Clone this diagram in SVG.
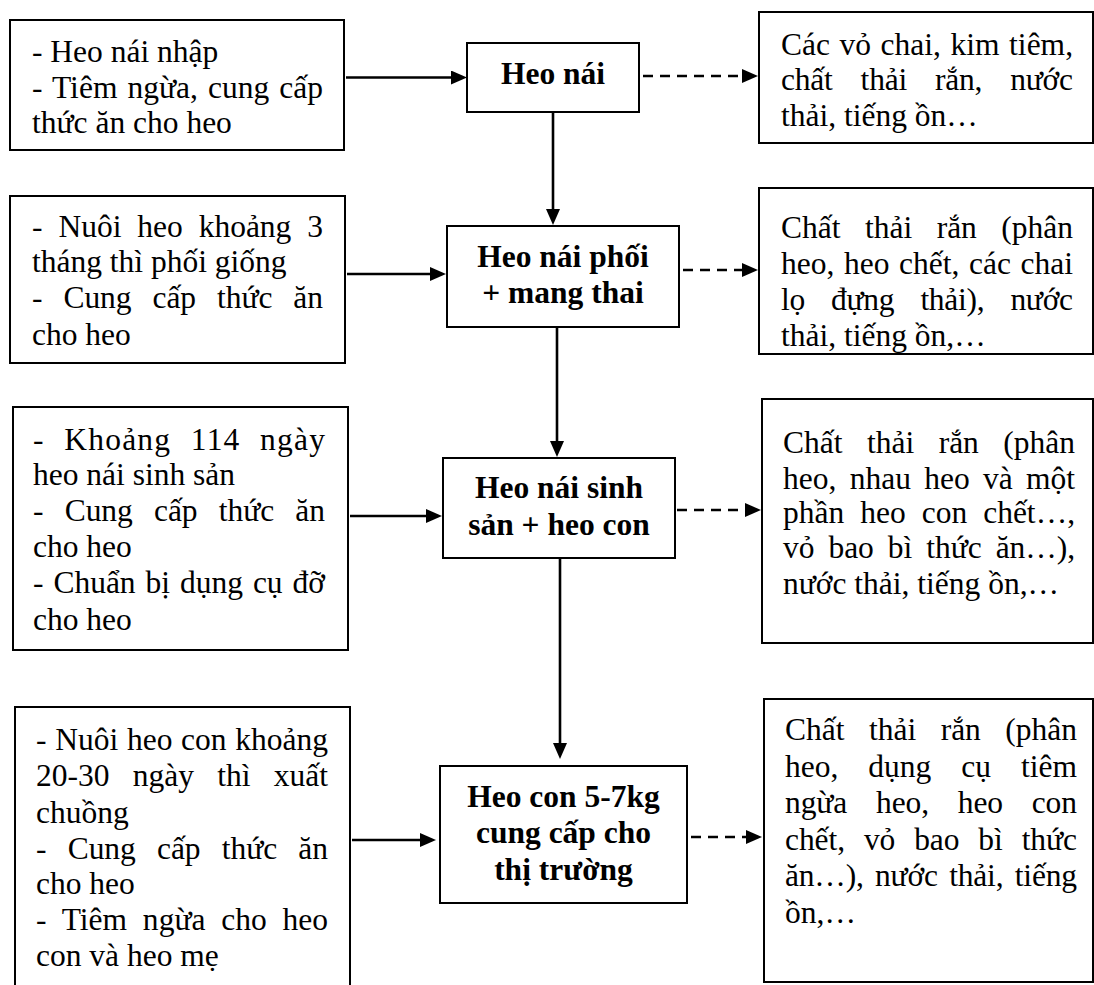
<svg xmlns="http://www.w3.org/2000/svg" width="1094" height="985" viewBox="0 0 1094 985">
<style>
.box{fill:#fff;stroke:#000;stroke-width:2}
.t{font-family:"Liberation Serif","Times New Roman",serif;font-size:31.5px;fill:#000}
.b{font-family:"Liberation Serif","Times New Roman",serif;font-size:31.5px;font-weight:bold;fill:#000;text-anchor:middle}
.ln{stroke:#000;stroke-width:2.6;fill:none}
.dl{stroke:#000;stroke-width:2.6;fill:none;stroke-dasharray:10 7}
</style>
<defs>
<marker id="ah" markerUnits="userSpaceOnUse" markerWidth="16" markerHeight="14" refX="6" refY="7" orient="auto">
<path d="M0,0 L16,7 L0,14 z" fill="#000"/>
</marker>
</defs>
<rect width="1094" height="985" fill="#fff"/>

<g id="connectors">
<line class="ln" x1="346" y1="77.5" x2="457" y2="77.5" marker-end="url(#ah)"/>
<line class="dl" x1="643" y1="76" x2="748" y2="76" marker-end="url(#ah)"/>
<line class="ln" x1="553" y1="112" x2="553" y2="215" marker-end="url(#ah)"/>
<line class="ln" x1="347" y1="274" x2="436" y2="274" marker-end="url(#ah)"/>
<line class="dl" x1="683" y1="270" x2="748" y2="270" marker-end="url(#ah)"/>
<line class="ln" x1="557" y1="327" x2="557" y2="447" marker-end="url(#ah)"/>
<line class="ln" x1="350" y1="516" x2="432" y2="516" marker-end="url(#ah)"/>
<line class="dl" x1="677" y1="510" x2="751" y2="510" marker-end="url(#ah)"/>
<line class="ln" x1="560" y1="558" x2="560" y2="749" marker-end="url(#ah)"/>
<line class="ln" x1="352" y1="840" x2="426" y2="840" marker-end="url(#ah)"/>
<line class="dl" x1="691" y1="837" x2="752" y2="837" marker-end="url(#ah)"/>
</g>

<g id="in1">
<rect class="box" x="10" y="20" width="334" height="130"/>
<text class="t" x="32" y="62">- Heo nái nhập</text>
<text class="t" x="32" y="98" word-spacing="2.1" textLength="291" lengthAdjust="spacing">- Tiêm ngừa, cung cấp</text>
<text class="t" x="32" y="133">thức ăn cho heo</text>
</g>

<g id="in2">
<rect class="box" x="10" y="196" width="335" height="167"/>
<text class="t" x="32" y="237" word-spacing="8" textLength="291" lengthAdjust="spacing">- Nuôi heo khoảng 3</text>
<text class="t" x="32" y="272">tháng thì phối giống</text>
<text class="t" x="32" y="308" word-spacing="13.2" textLength="291" lengthAdjust="spacing">- Cung cấp thức ăn</text>
<text class="t" x="32" y="345">cho heo</text>
</g>

<g id="in3">
<rect class="box" x="13" y="407" width="335" height="243"/>
<text class="t" x="33" y="450" word-spacing="10.4" textLength="292" lengthAdjust="spacing">- Khoảng 114 ngày</text>
<text class="t" x="33" y="485">heo nái sinh sản</text>
<text class="t" x="33" y="521" word-spacing="13.5" textLength="292" lengthAdjust="spacing">- Cung cấp thức ăn</text>
<text class="t" x="33" y="557">cho heo</text>
<text class="t" x="33" y="593" word-spacing="2.2" textLength="292" lengthAdjust="spacing">- Chuẩn bị dụng cụ đỡ</text>
<text class="t" x="33" y="630">cho heo</text>
</g>

<g id="in4">
<rect class="box" x="15" y="707" width="335" height="300"/>
<text class="t" x="36" y="750" word-spacing="0.8" textLength="292" lengthAdjust="spacing">- Nuôi heo con khoảng</text>
<text class="t" x="36" y="786" word-spacing="15.4" textLength="292" lengthAdjust="spacing">20-30 ngày thì xuất</text>
<text class="t" x="36" y="823">chuồng</text>
<text class="t" x="36" y="859" word-spacing="13.5" textLength="292" lengthAdjust="spacing">- Cung cấp thức ăn</text>
<text class="t" x="36" y="894">cho heo</text>
<text class="t" x="36" y="930" word-spacing="7.8" textLength="292" lengthAdjust="spacing">- Tiêm ngừa cho heo</text>
<text class="t" x="36" y="966">con và heo mẹ</text>
</g>

<g id="step1">
<rect class="box" x="467" y="43" width="172" height="69"/>
<text class="b" x="553" y="84">Heo nái</text>
</g>

<g id="step2">
<rect class="box" x="447" y="226" width="232" height="101"/>
<text class="b" x="563" y="267">Heo nái phối</text>
<text class="b" x="563" y="303">+ mang thai</text>
</g>

<g id="step3">
<rect class="box" x="443" y="458" width="232" height="100"/>
<text class="b" x="559" y="498">Heo nái sinh</text>
<text class="b" x="559" y="535">sản + heo con</text>
</g>

<g id="step4">
<rect class="box" x="440" y="766" width="247" height="137"/>
<text class="b" x="563.5" y="807">Heo con 5-7kg</text>
<text class="b" x="563.5" y="843">cung cấp cho</text>
<text class="b" x="563.5" y="880">thị trường</text>
</g>

<g id="out1">
<rect class="box" x="759" y="12" width="334" height="131"/>
<text class="t" x="781" y="55" word-spacing="1.7" textLength="292" lengthAdjust="spacing">Các vỏ chai, kim tiêm,</text>
<text class="t" x="781" y="90" word-spacing="20.4" textLength="292" lengthAdjust="spacing">chất thải rắn, nước</text>
<text class="t" x="781" y="126">thải, tiếng ồn…</text>
</g>

<g id="out2">
<rect class="box" x="759" y="188" width="334" height="166"/>
<text class="t" x="781" y="238" word-spacing="16.6" textLength="292" lengthAdjust="spacing">Chất thải rắn (phân</text>
<text class="t" x="781" y="274" word-spacing="1.7" textLength="292" lengthAdjust="spacing">heo, heo chết, các chai</text>
<text class="t" x="781" y="310" word-spacing="18.6" textLength="292" lengthAdjust="spacing">lọ đựng thải), nước</text>
<text class="t" x="781" y="346">thải, tiếng ồn,…</text>
</g>

<g id="out3">
<rect class="box" x="762" y="399" width="331" height="244"/>
<text class="t" x="783" y="453" word-spacing="16.6" textLength="292" lengthAdjust="spacing">Chất thải rắn (phân</text>
<text class="t" x="783" y="489" word-spacing="5.4" textLength="292" lengthAdjust="spacing">heo, nhau heo và một</text>
<text class="t" x="783" y="523" word-spacing="8.1" textLength="292" lengthAdjust="spacing">phần heo con chết…,</text>
<text class="t" x="783" y="558" word-spacing="6.3" textLength="292" lengthAdjust="spacing">vỏ bao bì thức ăn…),</text>
<text class="t" x="783" y="594">nước thải, tiếng ồn,…</text>
</g>

<g id="out4">
<rect class="box" x="764" y="699" width="329" height="283"/>
<text class="t" x="785" y="740" word-spacing="16.6" textLength="292" lengthAdjust="spacing">Chất thải rắn (phân</text>
<text class="t" x="785" y="777" word-spacing="22.1" textLength="292" lengthAdjust="spacing">heo, dụng cụ tiêm</text>
<text class="t" x="785" y="813" word-spacing="20.9" textLength="292" lengthAdjust="spacing">ngừa heo, heo con</text>
<text class="t" x="785" y="850" word-spacing="11.1" textLength="292" lengthAdjust="spacing">chết, vỏ bao bì thức</text>
<text class="t" x="785" y="886" word-spacing="3.7" textLength="292" lengthAdjust="spacing">ăn…), nước thải, tiếng</text>
<text class="t" x="785" y="923">ồn,…</text>
</g>
</svg>
